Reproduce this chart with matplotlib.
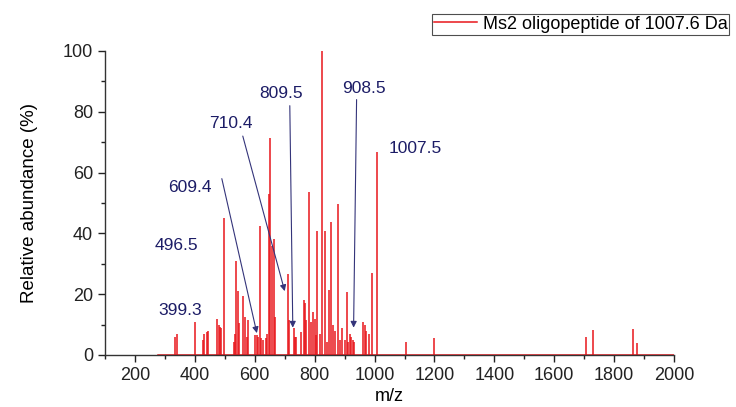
import matplotlib.pyplot as plt
from matplotlib.ticker import MultipleLocator

plt.rcParams['font.family'] = ['Liberation Sans', 'DejaVu Sans']

# stick spectrum (m/z, relative abundance %)
mz = [332, 339, 400, 428, 431, 439, 444, 474, 479, 483, 488, 497,
      530, 534, 539, 543, 548, 561, 566, 574, 579, 600, 606, 611,
      617, 622, 628, 637, 641, 646, 650, 659, 663, 668,
      711, 714, 730, 734, 739, 756, 763, 768, 772, 781, 789, 794,
      800, 803, 808, 817, 826, 833, 840, 847, 855, 861, 867, 878,
      883, 892, 900, 907, 912, 917, 922, 927, 933, 963, 968, 972,
      981, 991, 1008, 1105, 1200, 1707, 1730, 1863, 1875]
abundance = [6, 7, 10.9, 5, 7, 7.7, 8, 12, 10, 9.3, 8.8, 45,
             4.4, 7, 31, 21, 10.4, 19.5, 12.6, 6, 11.5, 6.6, 6.6, 6,
             42.5, 5.5, 5, 5.5, 7, 53, 71.5, 36, 38, 12.6,
             26.7, 11.5, 8.8, 6, 6, 7.7, 18, 17, 11.5, 53.5, 11, 14,
             12, 6.6, 40.7, 7, 100, 40.7, 4.4, 21.4, 43.6, 10, 8, 49.5,
             5, 8.8, 5, 20.7, 4.4, 7, 6, 5, 4.4, 11, 10, 8,
             7, 27, 66.7, 4.4, 5.5, 6, 8.2, 8.5, 3.8]
baseline_range = [277, 2000]

# annotations: label, text position, arrow start and tip (None = no arrow)
ann_labels = ['399.3', '496.5', '609.4', '710.4', '809.5', '908.5', '1007.5']
ann_text_xy = [(350, 14.5), (340, 36), (383, 55), (520, 76), (687, 86), (963, 87.5), (1135, 68)]
ann_arrow_start = [None, None, (490, 58), (560, 72), (717, 82), (940, 84), None]
ann_arrow_tip = [None, None, (607, 7.2), (700, 21), (727, 9), (930, 9), None]

fig = plt.figure(figsize=(7.36, 4.07), dpi=100)
ax = fig.add_axes([0.1427, 0.1278, 0.7731, 0.7470])

red = '#e8161b'
ax.vlines(mz, 0, abundance, color=red, linewidth=1.1)
ax.plot(baseline_range, [0, 0], color=red, linewidth=1.1, label='Ms2 oligopeptide of 1007.6 Da')

navy = '#1c1c66'
for lab, txy, start, tip in zip(ann_labels, ann_text_xy, ann_arrow_start, ann_arrow_tip):
    ax.text(txy[0], txy[1], lab, color=navy, fontsize=12.5, ha='center', va='center')
    if tip is not None:
        ax.annotate('', xy=tip, xytext=start,
                    arrowprops=dict(arrowstyle='-|>', color='#34347a', lw=0.8,
                                    mutation_scale=9, shrinkA=0, shrinkB=0))

ax.set_xlim(100, 2000)
ax.set_ylim(0, 100)
ax.xaxis.set_major_locator(MultipleLocator(200))
ax.xaxis.set_minor_locator(MultipleLocator(100))
ax.yaxis.set_major_locator(MultipleLocator(20))
ax.yaxis.set_minor_locator(MultipleLocator(10))
ax.set_xticks(range(200, 2001, 200))
ax.tick_params(which='major', direction='out', length=5, width=1, labelsize=13, colors='#222222')
ax.tick_params(which='minor', direction='out', length=3, width=1, colors='#222222')

for side in ['top', 'right']:
    ax.spines[side].set_visible(False)
for side in ['left', 'bottom']:
    ax.spines[side].set_color('#333333')
    ax.spines[side].set_linewidth(1)

ax.set_xlabel('m/z', fontsize=13, labelpad=3)
ax.set_ylabel('Relative abundance (%)', fontsize=13.5, labelpad=18)

leg = fig.legend(loc='upper left', bbox_to_anchor=(432 / 736, 1 - 14 / 407), fontsize=13,
                 frameon=True, fancybox=False, borderpad=0.1, handlelength=2.4,
                 handletextpad=0.3, borderaxespad=0)
leg.get_frame().set_edgecolor('#222222')
leg.get_frame().set_linewidth(0.8)

fig.savefig('out.png', dpi=100)
